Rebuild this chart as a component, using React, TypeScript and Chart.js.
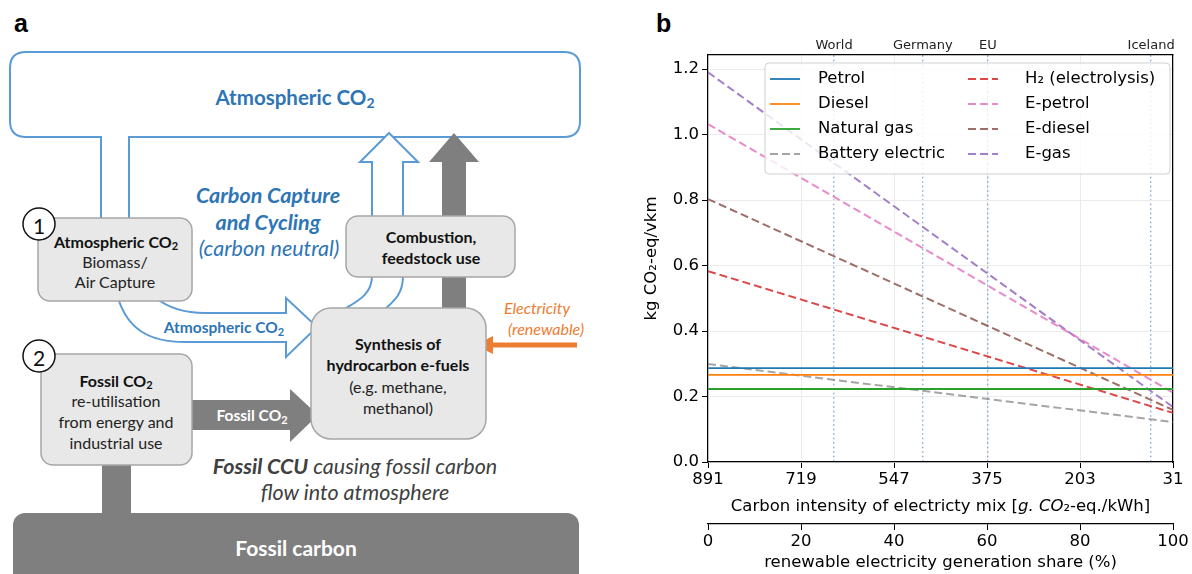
import React, { useEffect, useRef } from "react";
import { Chart, registerables } from "chart.js";
Chart.register(...registerables);

// ---------- data (panel b) ----------
const shareX = [0, 100]; // renewable electricity generation share (%)
const petrol = [0.287, 0.287];
const diesel = [0.266, 0.266];
const naturalGas = [0.223, 0.223];
const batteryElectric = [0.299, 0.122];
const h2Electrolysis = [0.583, 0.15];
const ePetrol = [1.032, 0.212];
const eDiesel = [0.803, 0.159];
const eGas = [1.19, 0.168];

const seriesNames = [
  "Petrol",
  "Diesel",
  "Natural gas",
  "Battery electric",
  "H₂ (electrolysis)",
  "E-petrol",
  "E-diesel",
  "E-gas",
];
const seriesValues = [petrol, diesel, naturalGas, batteryElectric, h2Electrolysis, ePetrol, eDiesel, eGas];
const seriesColors = [
  "#1f77b4",
  "#ff7f0e",
  "#2ca02c",
  "rgba(127,127,127,0.7)",
  "rgba(214,39,40,0.85)",
  "rgba(227,119,194,0.85)",
  "rgba(140,86,75,0.85)",
  "rgba(148,103,189,0.85)",
];
const seriesDashed = [false, false, false, true, true, true, true, true];

const shareTicks = [0, 20, 40, 60, 80, 100];
const carbonTickLabels = ["891", "719", "547", "375", "203", "31"];
const yTicks = [0, 0.2, 0.4, 0.6, 0.8, 1.0, 1.2];
const regionNames = ["World", "Germany", "EU", "Iceland"];
const regionShare = [27.1, 46.2, 60.2, 95.3];

const FONT = "'DejaVu Sans', sans-serif";
const FS = 16.5;

function roundRectPath(ctx: any, x0: number, y0: number, w: number, h: number, r: number) {
  ctx.beginPath();
  ctx.moveTo(x0 + r, y0);
  ctx.lineTo(x0 + w - r, y0);
  ctx.quadraticCurveTo(x0 + w, y0, x0 + w, y0 + r);
  ctx.lineTo(x0 + w, y0 + h - r);
  ctx.quadraticCurveTo(x0 + w, y0 + h, x0 + w - r, y0 + h);
  ctx.lineTo(x0 + r, y0 + h);
  ctx.quadraticCurveTo(x0, y0 + h, x0, y0 + h - r);
  ctx.lineTo(x0, y0 + r);
  ctx.quadraticCurveTo(x0, y0, x0 + r, y0);
  ctx.closePath();
}

const legendPlugin = {
  id: "insideLegend",
  afterDatasetsDraw(chart: any) {
    const { ctx, chartArea } = chart;
    const x0 = chartArea.left + 57;
    const y0 = chartArea.top + 8;
    ctx.save();
    roundRectPath(ctx, x0, y0, 405, 111, 4);
    ctx.fillStyle = "rgba(255,255,255,0.8)";
    ctx.fill();
    ctx.strokeStyle = "#d0d0d0";
    ctx.lineWidth = 1;
    ctx.stroke();
    chart.data.datasets.forEach((ds: any, i: number) => {
      const col = Math.floor(i / 4);
      const row = i % 4;
      const lx = x0 + 5 + col * 198;
      const ly = y0 + 16 + row * 25;
      ctx.beginPath();
      ctx.setLineDash(ds.borderDash || []);
      ctx.strokeStyle = ds.borderColor;
      ctx.lineWidth = ds.borderWidth;
      ctx.moveTo(lx, ly);
      ctx.lineTo(lx + 30, ly);
      ctx.stroke();
      ctx.setLineDash([]);
      ctx.fillStyle = "#000";
      ctx.font = FS + "px " + FONT;
      ctx.textBaseline = "middle";
      ctx.textAlign = "left";
      ctx.fillText(ds.label, lx + (col === 0 ? 48 : 57), ly);
    });
    ctx.restore();
  },
};

// title of the carbon-intensity axis, with the math part in italics
const carbonTitleParts = [
  { text: "Carbon intensity of electricty mix [", italic: false },
  { text: "g. CO", italic: true },
  { text: "₂", italic: false },
  { text: "-eq./kWh]", italic: false },
];
const carbonTitlePlugin = {
  id: "carbonTitle",
  afterDraw(chart: any) {
    const { ctx, chartArea } = chart;
    const cx = (chartArea.left + chartArea.right) / 2;
    const y = chartArea.bottom + 45;
    ctx.save();
    ctx.fillStyle = "#000";
    ctx.textBaseline = "middle";
    ctx.textAlign = "left";
    const fonts = carbonTitleParts.map((p) => (p.italic ? "italic " : "") + FS + "px " + FONT);
    let total = 0;
    const widths = carbonTitleParts.map((p, i) => {
      ctx.font = fonts[i];
      const w = ctx.measureText(p.text).width;
      total += w;
      return w;
    });
    let x = cx - total / 2;
    carbonTitleParts.forEach((p, i) => {
      ctx.font = fonts[i];
      ctx.fillText(p.text, x, y);
      x += widths[i];
    });
    ctx.restore();
  },
};

function EmissionsChart() {
  const ref = useRef<HTMLCanvasElement | null>(null);
  useEffect(() => {
    if (!ref.current) return;
    const datasets = seriesNames.map((name, i) => ({
      label: name,
      data: shareX.map((x, j) => ({ x, y: seriesValues[i][j] })),
      borderColor: seriesColors[i],
      backgroundColor: seriesColors[i],
      borderWidth: seriesDashed[i] ? 2 : 1.8,
      borderDash: seriesDashed[i] ? [8, 4] : [],
      pointRadius: 0,
      tension: 0,
      fill: false,
    }));
    const tickFont = { family: FONT, size: FS };
    const chart = new Chart(ref.current, {
      type: "line",
      data: { datasets },
      plugins: [legendPlugin, carbonTitlePlugin],
      options: {
        animation: false,
        responsive: false,
        devicePixelRatio: 1,
        layout: { padding: 0 },
        font: { family: FONT, size: FS },
        plugins: { legend: { display: false }, tooltip: { enabled: false } },
        scales: {
          x: {
            type: "linear",
            position: "bottom",
            weight: 0,
            min: 0,
            max: 100,
            afterBuildTicks: (s: any) => {
              s.ticks = shareTicks.map((v) => ({ value: v }));
            },
            afterFit: (s: any) => {
              s.height = 62;
            },
            ticks: {
              color: "#000",
              font: tickFont,
              padding: 2,
              maxRotation: 0,
              callback: (v: any) => carbonTickLabels[shareTicks.indexOf(Number(v))],
            },
            grid: { color: "#ebebeb", lineWidth: 1, tickColor: "#000", tickLength: 6 },
            border: { color: "#000", width: 1.2 },
            title: { display: false },
          },
          xr: {
            type: "linear",
            position: "bottom",
            weight: 1,
            min: 0,
            max: 100,
            afterBuildTicks: (s: any) => {
              s.ticks = shareTicks.map((v) => ({ value: v }));
            },
            afterFit: (s: any) => {
              s.height = 574 - 462 - 62;
            },
            ticks: {
              color: "#000",
              font: tickFont,
              padding: 2,
              maxRotation: 0,
              callback: (v: any) => String(v),
            },
            grid: { drawOnChartArea: false, tickColor: "#000", tickLength: 6 },
            border: { color: "#000", width: 1.2 },
            title: {
              display: true,
              text: "renewable electricity generation share (%)",
              color: "#000",
              font: tickFont,
              padding: { top: 0, bottom: 1 },
            },
          },
          xt: {
            type: "linear",
            position: "top",
            min: 0,
            max: 100,
            afterBuildTicks: (s: any) => {
              s.ticks = regionShare.map((v) => ({ value: v }));
            },
            afterFit: (s: any) => {
              s.height = 55;
            },
            ticks: {
              color: "#222",
              font: { family: FONT, size: 13 },
              padding: 2,
              maxRotation: 0,
              autoSkip: false,
              callback: (v: any) => regionNames[regionShare.indexOf(Number(v))],
            },
            grid: { color: "rgba(90,140,200,0.75)", lineWidth: 1.4, drawTicks: false },
            border: { color: "#000", width: 1.2, dash: [1.5, 3] },
          },
          y: {
            type: "linear",
            position: "left",
            min: 0,
            max: 1.243,
            afterBuildTicks: (s: any) => {
              s.ticks = yTicks.map((v) => ({ value: v }));
            },
            afterFit: (s: any) => {
              s.width = 68;
            },
            ticks: {
              color: "#000",
              font: tickFont,
              padding: 3,
              callback: (v: any) => Number(v).toFixed(1),
            },
            grid: { color: "#ebebeb", lineWidth: 1, tickColor: "#000", tickLength: 6 },
            border: { color: "#000", width: 1.2 },
            title: {
              display: true,
              text: "kg CO₂-eq/vkm",
              color: "#000",
              font: tickFont,
              padding: { top: 2, bottom: 0 },
            },
          },
          yr: {
            type: "linear",
            position: "right",
            min: 0,
            max: 1.243,
            afterFit: (s: any) => {
              s.width = 19;
            },
            ticks: { display: false },
            grid: { display: false },
            border: { color: "#000", width: 1.2 },
          },
        },
      } as any,
    });
    return () => chart.destroy();
  }, []);
  return (
    <canvas
      ref={ref}
      width={552}
      height={574}
      style={{ position: "absolute", left: 640, top: 0, width: 552, height: 574 }}
    />
  );
}

// ---------- panel a (diagram) ----------
const blue = "#5b9bd5";
const blueText = "#2e75b6";
const boxFill = "#e8e8e8";
const boxStroke = "#a6a6a6";
const gray = "#7f7f7f";
const orange = "#ed7d31";
const DFONT = "Lato, 'Open Sans', sans-serif";
const BOX_FS = 16;

function Sub({ size = 10, dy = 4 }: { size?: number; dy?: number }) {
  return (
    <tspan dy={dy} fontSize={size}>
      2
    </tspan>
  );
}

function Diagram() {
  return (
    <svg
      width={1192}
      height={574}
      style={{ position: "absolute", left: 0, top: 0 }}
      fontFamily={DFONT}
    >
      <text x={14} y={32} fontFamily="'Liberation Sans', Arial, sans-serif" fontWeight="bold" fontSize={25}>
        a
      </text>
      <text x={656} y={32} fontFamily="'Liberation Sans', Arial, sans-serif" fontWeight="bold" fontSize={25}>
        b
      </text>

      {/* Atmospheric CO2 reservoir */}
      <path
        d="M101,218 L101,137 L26,137 Q10,137 10,121 L10,68 Q10,52 26,52 L564,52 Q580,52 580,68 L580,121 Q580,137 564,137 L129,137 L129,218"
        fill="white"
        stroke={blue}
        strokeWidth={2}
      />
      <text x={295} y={97} textAnchor="middle" dominantBaseline="central" fill={blueText} fontWeight="bold" fontSize={20.5}>
        Atmospheric CO<Sub size={14} dy={5} />
      </text>

      {/* hollow up arrow: lower curves */}
      <path d="M372,276 C372,296 355,302 340,312" fill="none" stroke={blue} strokeWidth={2} />
      <path d="M403,276 C403,296 392,302 382,312" fill="none" stroke={blue} strokeWidth={2} />
      {/* hollow up arrow: stem and head */}
      <path d="M372,220 L372,162 L360,162 L389,133 L418,162 L403,162 L403,220" fill="white" stroke={blue} strokeWidth={2} />
      {/* grey up arrow */}
      <path d="M442,320 L442,162 L429,162 L454,133 L479,162 L466,162 L466,320 Z" fill={gray} />

      {/* atmospheric CO2 hollow right arrow */}
      <path
        d="M118,298 C128,330 150,342 185,342 L286,342 L286,357 L317,327 L286,298 L286,313 L205,313 C180,313 166,306 156,298"
        fill="white"
        stroke={blue}
        strokeWidth={2}
      />
      <text x={224} y={327} textAnchor="middle" dominantBaseline="central" fill={blueText} fontWeight="bold" fontSize={15.5}>
        Atmospheric CO<Sub size={11} dy={4} />
      </text>

      {/* fossil CO2 grey arrow */}
      <path d="M185,400 L290,400 L290,389 L318,415 L290,442 L290,430 L185,430 Z" fill={gray} />
      <text x={252} y={415} textAnchor="middle" dominantBaseline="central" fill="white" fontWeight="bold" fontSize={15.5}>
        Fossil CO<Sub size={11} dy={4} />
      </text>

      {/* electricity arrow */}
      <line x1={577} y1={345} x2={490} y2={345} stroke={orange} strokeWidth={5} />
      <path d="M475,345 L493,336 L493,354 Z" fill={orange} />
      <text x={537} y={307} textAnchor="middle" dominantBaseline="central" fill={orange} fontStyle="italic" fontSize={16}>
        Electricity
      </text>
      <text x={546} y={328} textAnchor="middle" dominantBaseline="central" fill={orange} fontStyle="italic" fontSize={16}>
        (renewable)
      </text>

      {/* fossil stem and reservoir */}
      <rect x={102} y={460} width={29} height={58} fill={gray} />
      <rect x={13} y={513} width={566} height={90} rx={12} fill={gray} />
      <text x={296} y={547} textAnchor="middle" dominantBaseline="central" fill="white" fontWeight="bold" fontSize={21}>
        Fossil carbon
      </text>

      {/* Box 1 */}
      <rect x={38} y={218} width={154} height={83} rx={12} fill={boxFill} stroke={boxStroke} strokeWidth={1.5} />
      <text x={116} y={241} textAnchor="middle" dominantBaseline="central" fontWeight="bold" fontSize={BOX_FS} fill="#111">
        Atmospheric CO<Sub size={11} dy={4} />
      </text>
      <text x={115} y={261} textAnchor="middle" dominantBaseline="central" fontSize={BOX_FS} fill="#222">
        Biomass/
      </text>
      <text x={115} y={281} textAnchor="middle" dominantBaseline="central" fontSize={BOX_FS} fill="#222">
        Air Capture
      </text>
      <circle cx={39} cy={224} r={16} fill="white" stroke="#111" strokeWidth={1.5} />
      <text x={39} y={225} textAnchor="middle" dominantBaseline="central" fontSize={21} fill="#111">
        1
      </text>

      {/* Box 2 */}
      <rect x={41} y={354} width={151} height={111} rx={12} fill={boxFill} stroke={boxStroke} strokeWidth={1.5} />
      <text x={116} y={380} textAnchor="middle" dominantBaseline="central" fontWeight="bold" fontSize={BOX_FS} fill="#111">
        Fossil CO<Sub size={11} dy={4} />
      </text>
      <text x={116} y={400} textAnchor="middle" dominantBaseline="central" fontSize={BOX_FS} fill="#222">
        re-utilisation
      </text>
      <text x={116} y={421} textAnchor="middle" dominantBaseline="central" fontSize={BOX_FS} fill="#222">
        from energy and
      </text>
      <text x={116} y={442} textAnchor="middle" dominantBaseline="central" fontSize={BOX_FS} fill="#222">
        industrial use
      </text>
      <circle cx={39} cy={356} r={16} fill="white" stroke="#111" strokeWidth={1.5} />
      <text x={39} y={357} textAnchor="middle" dominantBaseline="central" fontSize={21} fill="#111">
        2
      </text>

      {/* Combustion box */}
      <rect x={346} y={216} width={169} height={61} rx={12} fill={boxFill} stroke={boxStroke} strokeWidth={1.5} />
      <text x={431} y={236} textAnchor="middle" dominantBaseline="central" fontWeight="bold" fontSize={BOX_FS} fill="#111">
        Combustion,
      </text>
      <text x={431} y={257} textAnchor="middle" dominantBaseline="central" fontWeight="bold" fontSize={BOX_FS} fill="#111">
        feedstock use
      </text>

      {/* Synthesis box */}
      <rect x={311} y={308} width={175} height={131} rx={20} fill={boxFill} stroke={boxStroke} strokeWidth={1.5} />
      <text x={398} y={343} textAnchor="middle" dominantBaseline="central" fontWeight="bold" fontSize={BOX_FS} fill="#111">
        Synthesis of
      </text>
      <text x={398} y={364} textAnchor="middle" dominantBaseline="central" fontWeight="bold" fontSize={BOX_FS} fill="#111">
        hydrocarbon e-fuels
      </text>
      <text x={398} y={386} textAnchor="middle" dominantBaseline="central" fontSize={BOX_FS} fill="#222">
        (e.g. methane,
      </text>
      <text x={398} y={407} textAnchor="middle" dominantBaseline="central" fontSize={BOX_FS} fill="#222">
        methanol)
      </text>

      {/* Carbon capture label */}
      <text x={268} y={195} textAnchor="middle" dominantBaseline="central" fill={blueText} fontWeight="bold" fontStyle="italic" fontSize={21.5}>
        Carbon Capture
      </text>
      <text x={268} y={222} textAnchor="middle" dominantBaseline="central" fill={blueText} fontWeight="bold" fontStyle="italic" fontSize={21.5}>
        and Cycling
      </text>
      <text x={269} y={248} textAnchor="middle" dominantBaseline="central" fill={blueText} fontStyle="italic" fontSize={21.5}>
        (carbon neutral)
      </text>

      {/* Fossil CCU label */}
      <text x={355} y={466} textAnchor="middle" dominantBaseline="central" fill="#404040" fontStyle="italic" fontSize={21.5}>
        <tspan fontWeight="bold">Fossil CCU</tspan> causing fossil carbon
      </text>
      <text x={355} y={492} textAnchor="middle" dominantBaseline="central" fill="#404040" fontStyle="italic" fontSize={21.5}>
        flow into atmosphere
      </text>
    </svg>
  );
}

export default function App() {
  return (
    <div style={{ position: "fixed", left: 0, top: 0, width: 1192, height: 574, background: "white", overflow: "hidden" }}>
      <Diagram />
      <EmissionsChart />
    </div>
  );
}
